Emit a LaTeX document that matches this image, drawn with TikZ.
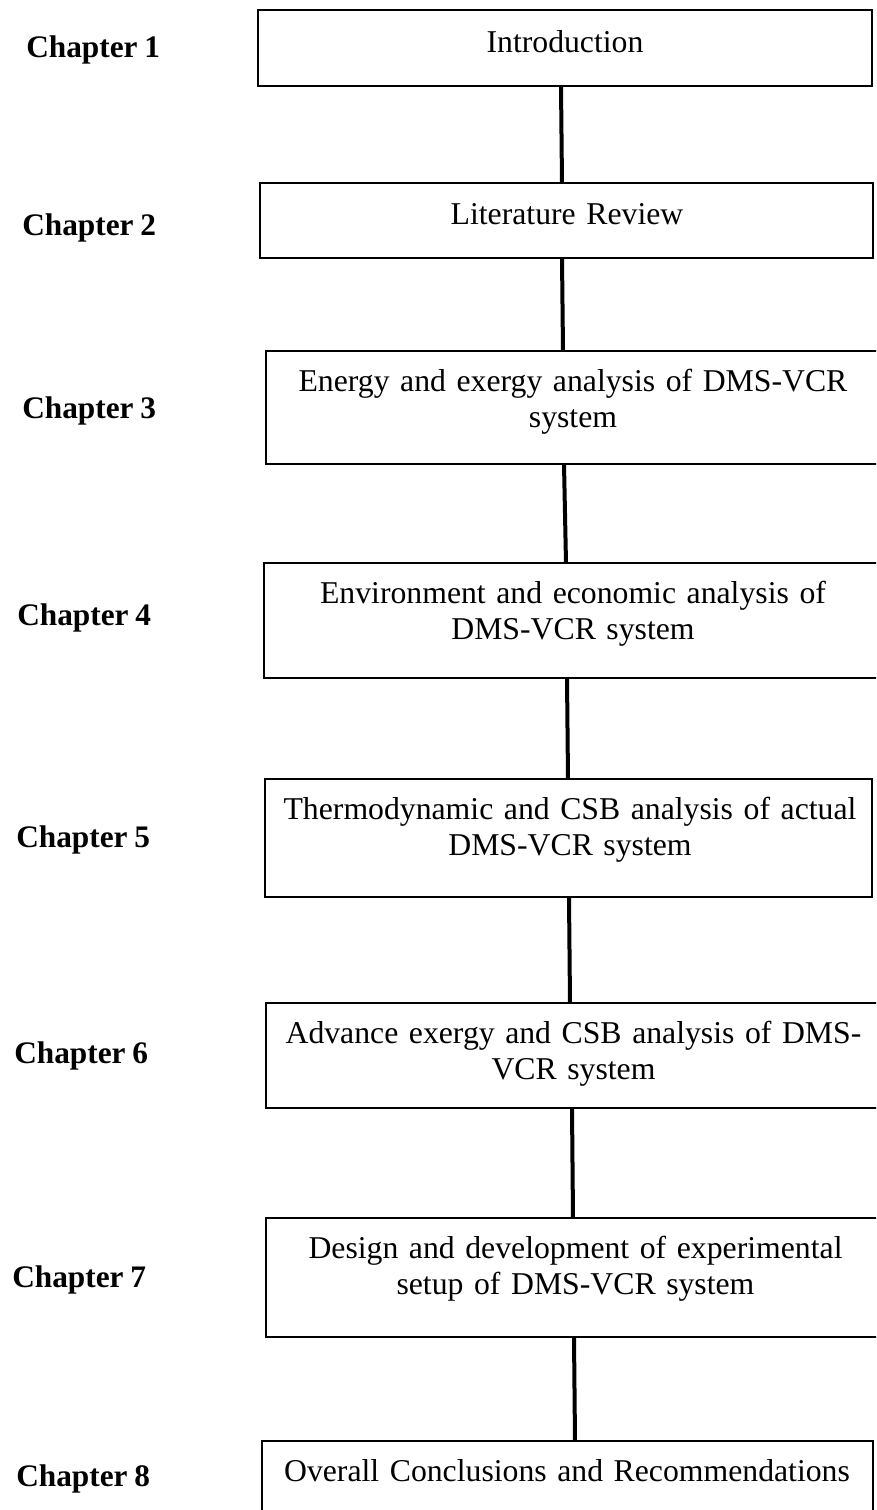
\documentclass[tikz,border=0pt]{standalone}
\usepackage{fontspec}
\setmainfont[WordSpace=0.85]{Liberation Serif}
\usetikzlibrary{fit}
\begin{document}
\begin{tikzpicture}[x=0.75pt,y=-0.75pt,
  box/.style={draw=black,line width=1.5pt,inner sep=0pt,outer sep=0pt},
  conn/.style={draw=black,line width=3pt},
  txt/.style={font=\fontsize{23.8}{27}\selectfont,text width=470pt,align=center,inner sep=0pt,anchor=base},
  chap/.style={font=\fontsize{23.5}{27}\selectfont\bfseries,inner sep=0pt,anchor=base west}]
\useasboundingbox (0,0) rectangle (876,1510);
\clip (0,0) rectangle (876,1510);
\fill[white] (0,0) rectangle (876,1510);
% boxes
\node[box,fit={(258,10) (872,86)}] (b1) {};
\node[box,fit={(260,183) (873,258)}] (b2) {};
\node[box,fit={(266,351) (880,464)}] (b3) {};
\node[box,fit={(264,563) (882,678)}] (b4) {};
\node[box,fit={(265,779) (872,897)}] (b5) {};
\node[box,fit={(266,1003) (881,1108)}] (b6) {};
\node[box,fit={(266,1218) (885,1337)}] (b7) {};
\node[box,fit={(262,1441) (873,1530)}] (b8) {};
% box texts
\node[txt] (t1) at (565,52) {Introduction};
\node[txt] (t2) at (567,224) {Literature Review};
\node[txt] (t3) at (573,391) {Energy and exergy analysis of DMS-VCR\\system};
\node[txt] (t4) at (573,603) {Environment and economic analysis of\\DMS-VCR system};
\node[txt] (t5) at (570,819) {Thermodynamic and CSB analysis of actual\\DMS-VCR system};
\node[txt] (t6) at (573.5,1043) {Advance exergy and CSB analysis of DMS-\\VCR system};
\node[txt] (t7) at (575.5,1258) {Design and development of experimental\\setup of DMS-VCR system};
\node[txt] (t8) at (567,1481) {Overall Conclusions and Recommendations};
% chapter labels
\node[chap] (c1) at (26,57) {Chapter 1};
\node[chap] (c2) at (22,235) {Chapter 2};
\node[chap] (c3) at (22,418) {Chapter 3};
\node[chap] (c4) at (17,625) {Chapter 4};
\node[chap] (c5) at (16,847) {Chapter 5};
\node[chap] (c6) at (14,1063) {Chapter 6};
\node[chap] (c7) at (12,1287) {Chapter 7};
\node[chap] (c8) at (16,1486) {Chapter 8};
% connectors
\draw[conn] (b1.south -| 561,0) -- (b2.north -| 562,0);
\draw[conn] (b2.south -| 562,0) -- (b3.north -| 563,0);
\draw[conn] (b3.south -| 564,0) -- (b4.north -| 566,0);
\draw[conn] (b4.south -| 567,0) -- (b5.north -| 568,0);
\draw[conn] (b5.south -| 569,0) -- (b6.north -| 570,0);
\draw[conn] (b6.south -| 572,0) -- (b7.north -| 573,0);
\draw[conn] (b7.south -| 574,0) -- (b8.north -| 575,0);
\end{tikzpicture}
\end{document}
